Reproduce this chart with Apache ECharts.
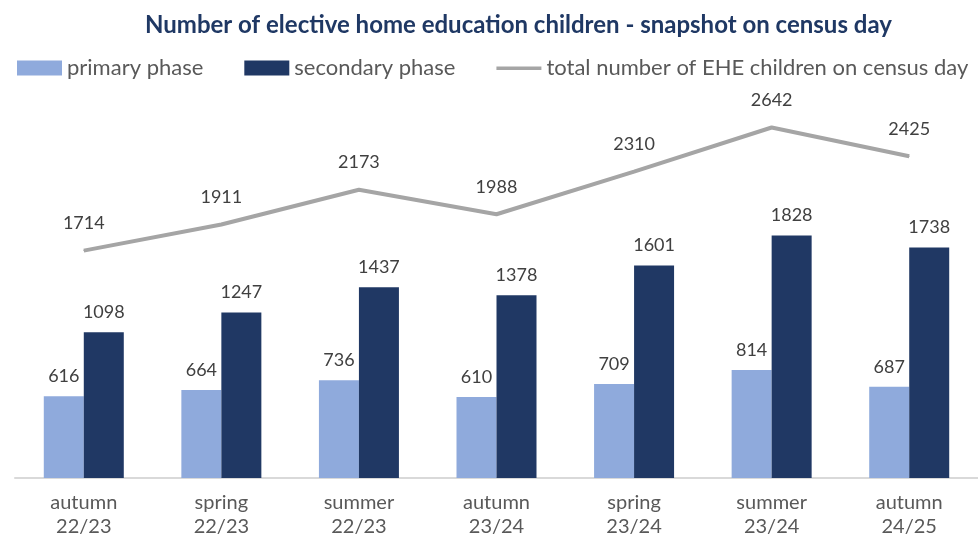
<!DOCTYPE html>
<html>
<head>
<meta charset="utf-8">
<script src="https://cdn.jsdelivr.net/npm/echarts@6/dist/echarts.min.js"></script>
<style>
    html, body { margin: 0; padding: 0; background: #fff; }
    #chart { width: 978px; height: 540px; }
</style>
</head>
<body>
<div id="chart"></div>
<script>
var categories = ['autumn\n22/23', 'spring\n22/23', 'summer\n22/23', 'autumn\n23/24', 'spring\n23/24', 'summer\n23/24', 'autumn\n24/25'];
var primaryPhase = [616, 664, 736, 610, 709, 814, 687];
var secondaryPhase = [1098, 1247, 1437, 1378, 1601, 1828, 1738];
var totalEHE = [1714, 1911, 2173, 1988, 2310, 2642, 2425];

var font = 'Lato, "Open Sans", sans-serif';
// thin bar with invisible corner specks so the icon keeps its height
var lineIcon = 'path://M0,0h0.01v0.01h-0.01z M0,6h45v3.5h-45z M44.99,15h0.01v0.01h-0.01z';

var chart = echarts.init(document.getElementById('chart'));
chart.setOption({
    animation: false,
    textStyle: { fontFamily: font },
    title: {
        text: 'Number of elective home education children - snapshot on census day',
        left: 140,
        top: 8,
        textStyle: { color: '#1f3864', fontSize: 24, fontWeight: 'bold', fontFamily: font }
    },
    legend: {
        left: 12,
        top: 52,
        width: 1100,
        itemWidth: 45,
        itemHeight: 15,
        itemGap: 41,
        textStyle: { color: '#595959', fontSize: 22, fontFamily: font },
        data: [
            { name: 'primary phase', icon: 'rect' },
            { name: 'secondary phase', icon: 'rect' },
            { name: 'total number of EHE children on census day', icon: lineIcon }
        ]
    },
    grid: { left: 15, top: 80, bottom: 62, width: 987 },
    xAxis: {
        type: 'category',
        data: categories,
        axisLine: { lineStyle: { color: '#d9d9d9', width: 2 } },
        axisTick: { show: false },
        axisLabel: { color: '#595959', fontSize: 20, lineHeight: 24, margin: 13, fontFamily: font }
    },
    yAxis: {
        type: 'value',
        min: 0,
        max: 3000,
        show: false,
        splitLine: { show: false }
    },
    series: [
        {
            name: 'primary phase',
            type: 'bar',
            barWidth: 40,
            barGap: '0%',
            data: primaryPhase,
            itemStyle: { color: '#8faadc' },
            label: { show: true, position: 'top', distance: 11, color: '#404040', fontSize: 18, fontFamily: font }
        },
        {
            name: 'secondary phase',
            type: 'bar',
            barWidth: 40,
            data: secondaryPhase,
            itemStyle: { color: '#203864' },
            label: { show: true, position: 'top', distance: 11, color: '#404040', fontSize: 18, fontFamily: font }
        },
        {
            name: 'total number of EHE children on census day',
            type: 'line',
            data: totalEHE,
            symbol: 'circle',
            symbolSize: 1,
            showSymbol: true,
            lineStyle: { color: '#a5a5a5', width: 4 },
            itemStyle: { color: '#a5a5a5' },
            label: { show: true, position: 'top', distance: 18, color: '#404040', fontSize: 18, fontFamily: font }
        }
    ]
});
</script>
</body>
</html>
